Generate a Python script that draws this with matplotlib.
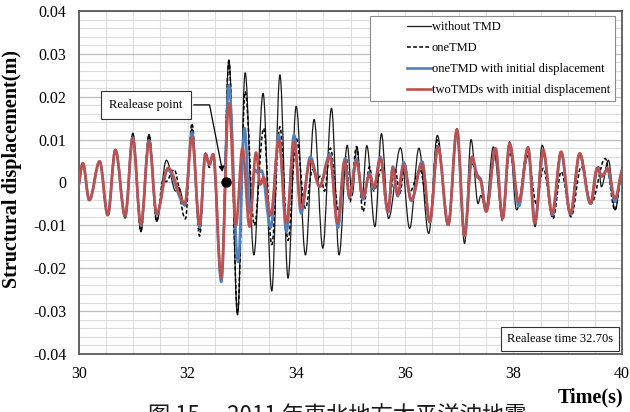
import numpy as np
import matplotlib
matplotlib.use('Agg')
import matplotlib.pyplot as plt
from matplotlib.path import Path
from matplotlib.patches import PathPatch
from matplotlib.lines import Line2D
from matplotlib.legend_handler import HandlerLine2D
from matplotlib.ticker import MultipleLocator, FuncFormatter

# peaks and troughs of each response (time in s, displacement in m)
t_none = [29.97, 30.07, 30.19, 30.38, 30.53, 30.67, 30.85, 30.99, 31.14, 31.29, 31.43, 31.61, 31.78, 31.84,
          31.95, 32.08, 32.22, 32.33, 32.40, 32.47, 32.62, 32.76, 32.92, 33.06, 33.22, 33.39, 33.55, 33.70,
          33.85, 34.00, 34.17, 34.33, 34.49, 34.65, 34.79, 34.94, 35.03, 35.12, 35.21, 35.30, 35.45, 35.57,
          35.70, 35.92, 36.09, 36.26, 36.44, 36.60, 36.79, 36.96, 37.10, 37.22, 37.35, 37.40, 37.49, 37.63,
          37.80, 37.93, 38.06, 38.27, 38.40, 38.53, 38.72, 38.87, 39.06, 39.23, 39.43, 39.57, 39.62, 39.75,
          39.87, 40.02]
d_none = [-0.0015, 0.0045, -0.0041, 0.0049, -0.0076, 0.0077, -0.0083, 0.0115, -0.0115, 0.0112, -0.0091, 0.0052,
          -0.0020, -0.0012, -0.0055, 0.0125, -0.0110, 0.0068, 0.0042, 0.0066, -0.0228, 0.0286, -0.0309, 0.0256,
          -0.0169, 0.0208, -0.0253, 0.0251, -0.0223, 0.0178, -0.0169, 0.0147, -0.0153, 0.0173, -0.0169, 0.0087,
          -0.0030, 0.0083, -0.0040, 0.0086, -0.0103, 0.0114, -0.0084, 0.0081, -0.0107, 0.0080, -0.0119, 0.0110,
          -0.0099, 0.0126, -0.0142, 0.0100, -0.0049, -0.0030, -0.0064, 0.0083, -0.0084, 0.0095, -0.0064, 0.0083,
          -0.0103, 0.0087, -0.0080, 0.0072, -0.0076, 0.0068, -0.0049, 0.0037, -0.0010, 0.0052, -0.0064, 0.0037]

t_one = [29.97, 30.07, 30.19, 30.38, 30.53, 30.67, 30.85, 30.99, 31.14, 31.29, 31.43, 31.55, 31.60, 31.75,
         31.96, 32.08, 32.22, 32.33, 32.40, 32.47, 32.62, 32.76, 32.92, 33.06, 33.23, 33.40, 33.55, 33.70,
         33.85, 34.00, 34.17, 34.30, 34.38, 34.45, 34.52, 34.63, 34.78, 34.92, 34.99, 35.11, 35.23, 35.35,
         35.43, 35.57, 35.69, 35.82, 35.91, 36.00, 36.09, 36.28, 36.46, 36.60, 36.80, 36.96, 37.10, 37.23,
         37.38, 37.50, 37.67, 37.80, 37.93, 38.10, 38.27, 38.42, 38.55, 38.73, 38.88, 39.06, 39.25, 39.43,
         39.69, 39.87, 40.02]
d_one = [-0.0015, 0.0045, -0.0041, 0.0049, -0.0076, 0.0076, -0.0082, 0.0113, -0.0113, 0.0110, -0.0090, 0.0006,
         0.0002, 0.0030, -0.0085, 0.0138, -0.0125, 0.0068, 0.0035, 0.0066, -0.0228, 0.0283, -0.0305, 0.0212,
         -0.0100, 0.0126, -0.0145, 0.0130, -0.0135, 0.0103, -0.0060, 0.0030, 0.0008, 0.0015, -0.0020, 0.0080,
         -0.0065, 0.0060, -0.0045, 0.0084, -0.0068, 0.0037, -0.0020, 0.0030, -0.0058, 0.0030, -0.0025, 0.0044,
         -0.0022, 0.0030, -0.0087, 0.0099, -0.0095, 0.0118, -0.0120, 0.0045, 0.0010, -0.0056, 0.0068, -0.0089,
         0.0070, -0.0042, 0.0063, -0.0049, 0.0033, -0.0084, 0.0025, -0.0080, 0.0037, -0.0049, 0.0056, -0.0064,
         0.0037]

t_one_init = [29.97, 30.07, 30.19, 30.38, 30.53, 30.67, 30.85, 30.99, 31.14, 31.29, 31.43, 31.63, 31.95, 32.08,
              32.22, 32.33, 32.40, 32.47, 32.62, 32.76, 32.93, 33.05, 33.15, 33.24, 33.30, 33.36, 33.53, 33.68,
              33.82, 33.96, 34.09, 34.26, 34.43, 34.62, 34.77, 34.90, 34.98, 35.11, 35.23, 35.35, 35.43, 35.55,
              35.69, 35.78, 35.87, 35.98, 36.12, 36.32, 36.46, 36.61, 36.80, 36.96, 37.10, 37.23, 37.36, 37.39,
              37.50, 37.67, 37.80, 37.93, 38.10, 38.27, 38.40, 38.55, 38.72, 38.88, 39.05, 39.22, 39.42, 39.55,
              39.63, 39.73, 39.87, 40.02]
d_one_init = [-0.0015, 0.0045, -0.0041, 0.0049, -0.0076, 0.0076, -0.0079, 0.0105, -0.0100, 0.0098, -0.0075, 0.0030,
              -0.0052, 0.0117, -0.0105, 0.0067, 0.0042, 0.0066, -0.0232, 0.0227, -0.0185, 0.0127, -0.0072, 0.0030,
              0.0022, 0.0028, -0.0105, 0.0111, -0.0115, 0.0111, -0.0072, 0.0060, -0.0008, 0.0066, -0.0105, 0.0056,
              -0.0035, 0.0055, -0.0040, 0.0022, -0.0015, 0.0060, -0.0070, 0.0037, -0.0032, 0.0047, -0.0043, 0.0049,
              -0.0093, 0.0085, -0.0098, 0.0120, -0.0122, 0.0058, 0.0014, 0.0010, -0.0066, 0.0078, -0.0082, 0.0089,
              -0.0055, 0.0080, -0.0093, 0.0070, -0.0076, 0.0068, -0.0074, 0.0064, -0.0049, 0.0035, 0.0016, 0.0030,
              -0.0045, 0.0032]

t_two_init = [29.97, 30.07, 30.19, 30.38, 30.53, 30.67, 30.85, 30.99, 31.14, 31.29, 31.43, 31.64, 31.95, 32.08,
              32.22, 32.33, 32.40, 32.47, 32.62, 32.76, 32.89, 33.01, 33.14, 33.26, 33.34, 33.40, 33.53, 33.68,
              33.82, 33.96, 34.09, 34.26, 34.43, 34.62, 34.76, 34.89, 34.98, 35.11, 35.23, 35.35, 35.43, 35.55,
              35.69, 35.78, 35.87, 35.98, 36.12, 36.32, 36.46, 36.61, 36.80, 36.96, 37.10, 37.24, 37.34, 37.38,
              37.50, 37.67, 37.80, 37.93, 38.10, 38.27, 38.39, 38.55, 38.71, 38.88, 39.05, 39.22, 39.42, 39.54,
              39.63, 39.74, 39.87, 40.02]
d_two_init = [-0.0015, 0.0045, -0.0041, 0.0049, -0.0076, 0.0076, -0.0078, 0.0103, -0.0098, 0.0095, -0.0072, 0.0034,
              -0.0048, 0.0105, -0.0098, 0.0067, 0.0042, 0.0066, -0.0222, 0.0185, -0.0100, 0.0080, -0.0103, 0.0070,
              -0.0005, 0.0012, -0.0076, 0.0099, -0.0095, 0.0095, -0.0060, 0.0052, -0.0010, 0.0060, -0.0095, 0.0049,
              -0.0033, 0.0049, -0.0033, 0.0018, -0.0012, 0.0056, -0.0068, 0.0033, -0.0029, 0.0041, -0.0041, 0.0045,
              -0.0091, 0.0083, -0.0099, 0.0124, -0.0125, 0.0060, 0.0012, 0.0008, -0.0068, 0.0080, -0.0084, 0.0091,
              -0.0045, 0.0082, -0.0095, 0.0076, -0.0072, 0.0072, -0.0072, 0.0068, -0.0049, 0.0033, 0.0014, 0.0033,
              -0.0037, 0.0030]

labels = ['without TMD', 'oneTMD', 'oneTMD with initial displacement', 'twoTMDs with initial displacement']
release_time = 32.70

SERIF = 'Liberation Serif'


def smooth_path(t, d, k=0.36):
    """Cubic Bezier path through the extrema, flat tangent at every point."""
    verts = [(t[0], d[0])]
    codes = [Path.MOVETO]
    for i in range(1, len(t)):
        dt = t[i] - t[i - 1]
        verts += [(t[i - 1] + k * dt, d[i - 1]), (t[i] - k * dt, d[i]), (t[i], d[i])]
        codes += [Path.CURVE4] * 3
    return Path(verts, codes)


class OffsetLine(HandlerLine2D):
    """Legend handler that draws the sample line on the right part of the handle box."""
    def create_artists(self, legend, orig_handle, xdescent, ydescent, width, height, fontsize, trans):
        shift = width * 0.57
        return super().create_artists(legend, orig_handle, xdescent - shift, ydescent,
                                      width - shift, height, fontsize, trans)


def main():
    fig = plt.figure(figsize=(6.3, 4.12), dpi=100)
    ax = fig.add_axes([0.1254, 0.1408, 0.8619, 0.8325])

    styles = [
        dict(color='#1a1a1a', lw=0.9, ls='-'),
        dict(color='#000000', lw=1.1, ls=(0, (2.5, 1.5))),
        dict(color='#4F81BD', lw=1.9, ls='-'),
        dict(color='#C0504D', lw=1.9, ls='-'),
    ]
    series = [(t_none, d_none), (t_one, d_one), (t_one_init, d_one_init), (t_two_init, d_two_init)]

    handles = []
    for (t, d), st, lab in zip(series, styles, labels):
        patch = PathPatch(smooth_path(t, d), fill=False, edgecolor=st['color'], lw=st['lw'],
                          linestyle=st['ls'], capstyle='butt', joinstyle='round', zorder=3)
        ax.add_patch(patch)
        handles.append(Line2D([], [], color=st['color'], lw=st['lw'], ls=st['ls'], label=lab))

    ax.set_xlim(30, 40)
    ax.set_ylim(-0.04, 0.04)

    ax.xaxis.set_major_locator(MultipleLocator(2))
    ax.xaxis.set_minor_locator(MultipleLocator(0.5))
    ax.yaxis.set_major_locator(MultipleLocator(0.01))
    ax.yaxis.set_minor_locator(MultipleLocator(0.002))
    ax.yaxis.set_major_formatter(FuncFormatter(lambda v, p: '0' if abs(v) < 1e-9 else f'{v:.2f}'))

    ax.grid(which='minor', color='#dcdcdc', lw=0.8)
    ax.grid(which='major', axis='x', color='#dcdcdc', lw=0.8)
    ax.grid(which='major', axis='y', color='#bdbdbd', lw=0.9)
    ax.set_axisbelow(True)

    ax.tick_params(which='both', length=0)
    ax.tick_params(axis='y', pad=9, labelsize=11.5)
    ax.tick_params(axis='x', pad=9, labelsize=11.5)
    for lab in ax.get_xticklabels() + ax.get_yticklabels():
        lab.set_fontfamily(SERIF)

    for sp in ax.spines.values():
        sp.set_color('#595959')
        sp.set_linewidth(1.3)

    ax.set_ylabel('Structural displacement(m)', fontfamily=SERIF, fontweight='bold', fontsize=14.5)
    ax.yaxis.set_label_coords(-0.105, 0.54)
    ax.text(1.003, -0.128, 'Time(s)', transform=ax.transAxes, ha='right', va='center',
            fontfamily=SERIF, fontweight='bold', fontsize=14.5)

    leg = ax.legend(handles=handles, loc='upper right', bbox_to_anchor=(0.987, 0.985),
                    borderaxespad=0, prop={'family': SERIF, 'size': 9},
                    handlelength=4.5, handletextpad=0.05, labelspacing=0.72, borderpad=0.4,
                    fancybox=False, framealpha=1, edgecolor='#8c8c8c',
                    handler_map={Line2D: OffsetLine()})
    leg.get_frame().set_linewidth(0.8)

    # release point marker and its callout
    ax.plot([release_time], [0.0], 'o', color='black', markersize=6.5, zorder=5)
    ax.annotate('Realease point', xy=(32.655, 0.0018), xytext=(31.23, 0.0181),
                ha='center', va='center', fontfamily=SERIF, fontsize=9,
                bbox=dict(boxstyle='square,pad=0.65', fc='white', ec='#333333', lw=0.8),
                arrowprops=dict(arrowstyle='-|>', color='black', lw=0.9, mutation_scale=8,
                                connectionstyle='angle,angleA=0,angleB=101,rad=0'),
                zorder=6)

    ax.text(38.86, -0.0365, f'Realease time {release_time:.2f}s', ha='center', va='center',
            fontfamily=SERIF, fontsize=9,
            bbox=dict(boxstyle='square,pad=0.45', fc='white', ec='#333333', lw=0.8), zorder=6)

    fig.text(0.535, 0.018, '图 15\u2003 2011 年東北地方太平洋沖地震', ha='center', va='top',
             fontsize=16, family=['Noto Sans CJK JP', 'DejaVu Sans'], color='#1a1a1a')

    fig.savefig('out.png', dpi=100)
    plt.close(fig)


if __name__ == "__main__":
    main()
